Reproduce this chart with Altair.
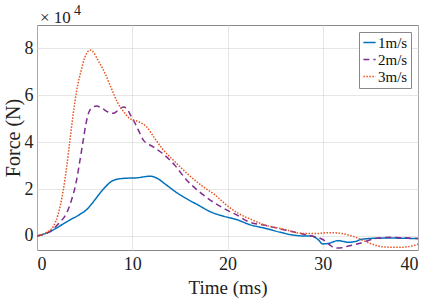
import altair as alt
import pandas as pd

t1 = [0, 0.5, 1.36, 2.5, 3.46, 4.5, 5.2, 6.0, 6.6, 7.2, 7.66, 8.2, 8.7, 9.76, 10.5, 11.2, 11.86, 12.56, 13.5, 14.66, 16, 17, 18.15, 19.5, 21.1, 22.2, 24, 25.5, 26.7, 28, 28.8, 29.5, 30.0, 30.6, 31.6, 32.7, 33.4, 34.1, 35.5, 37.2, 38.5, 40]
f1 = [0, 0.05, 0.18, 0.45, 0.68, 0.92, 1.12, 1.5, 1.82, 2.1, 2.28, 2.4, 2.44, 2.47, 2.48, 2.52, 2.55, 2.47, 2.2, 1.85, 1.52, 1.3, 1.04, 0.85, 0.68, 0.5, 0.32, 0.16, 0.05, 0.0, 0.0, -0.15, -0.34, -0.32, -0.2, -0.27, -0.24, -0.14, -0.1, -0.09, -0.1, -0.11]

t2 = [0, 1, 1.6, 2.2, 3.1, 3.6, 4.16, 4.5, 4.86, 5.1, 5.4, 5.8, 6.26, 6.8, 7.4, 8.0, 8.5, 9.06, 9.4, 9.76, 10.3, 10.8, 11.15, 12.2, 13.25, 14.5, 15.7, 17, 18.15, 19.5, 20.95, 22.2, 24, 25.7, 27.5, 28.8, 29.6, 30.2, 30.8, 31.3, 32, 32.7, 34.1, 35.5, 37.2, 38.5, 40]
f2 = [0, 0.12, 0.25, 0.5, 0.97, 1.5, 2.39, 3.2, 4.1, 4.7, 5.23, 5.48, 5.54, 5.45, 5.3, 5.23, 5.35, 5.5, 5.45, 5.2, 4.8, 4.38, 4.1, 3.8, 3.5, 3.0, 2.39, 1.9, 1.54, 1.2, 0.9, 0.61, 0.45, 0.28, 0.12, 0.0, -0.08, -0.2, -0.4, -0.52, -0.5, -0.43, -0.29, -0.11, -0.06, -0.08, -0.11]

t3 = [0, 1, 1.71, 2.2, 2.76, 3.1, 3.46, 3.8, 4.16, 4.6, 5.0, 5.3, 5.56, 5.9, 6.4, 7.14, 7.8, 8.5, 9.1, 9.76, 10.1, 10.8, 11.5, 12.3, 13.2, 14.3, 15.8, 17.45, 18.7, 19.8, 21.1, 22.5, 23.9, 25.8, 27.8, 29.2, 30.6, 31.7, 32.7, 33.4, 34.1, 35.2, 36.2, 37.2, 38.3, 39.2, 40]
f3 = [0, 0.15, 0.4, 0.9, 1.96, 2.9, 4.1, 5.2, 6.2, 7.0, 7.6, 7.85, 7.93, 7.85, 7.5, 6.94, 6.3, 5.66, 5.3, 5.0, 4.95, 4.85, 4.66, 4.2, 3.7, 3.24, 2.65, 2.1, 1.75, 1.35, 0.97, 0.7, 0.47, 0.3, 0.11, 0.1, 0.14, 0.12, 0.04, -0.05, -0.17, -0.35, -0.46, -0.48, -0.48, -0.44, -0.35]

series = ["1m/s", "2m/s", "3m/s"]
colors = ["#0072BD", "#7E2F8E", "#E8531F"]
dashes = [[1, 0], [6, 4], [1.5, 1.5]]
y_ticks = [0, 20000, 40000, 60000, 80000]
x_ticks = [0, 10, 20, 30, 40]

rows = []
for name, ts, fs in zip(series, [t1, t2, t3], [f1, f2, f3]):
    for i, (t, f) in enumerate(zip(ts, fs)):
        rows.append({"t": t, "F": f * 1e4, "s": name, "i": i})
df = pd.DataFrame(rows)

FONT = "Liberation Serif"

lines = alt.Chart(df).mark_line(strokeWidth=1.5, interpolate="monotone", clip=True).encode(
    x=alt.X("t:Q", scale=alt.Scale(domain=[0, 40], nice=False),
            axis=alt.Axis(values=x_ticks, title="Time (ms)", labelFontSize=18, titleFontSize=19,
                          labelPadding=5, titlePadding=5, ticks=False, domain=False,
                          gridDash=[1, 1], gridColor="#cccccc", labelColor="#222", titleColor="#222",
                          titleFontWeight="normal", labelFont=FONT, titleFont=FONT)),
    y=alt.Y("F:Q", scale=alt.Scale(domain=[-6000, 90000], nice=False, zero=False),
            axis=alt.Axis(values=y_ticks, title="Force (N)", labelExpr="datum.value/10000",
                          labelFontSize=18, titleFontSize=20, labelPadding=4,
                          titleX=-14, titleY=112.5, titleAngle=270, titleBaseline="bottom",
                          ticks=False, domain=False, gridDash=[1, 1], gridColor="#cccccc",
                          labelColor="#222", titleColor="#222", titleFontWeight="normal",
                          labelFont=FONT, titleFont=FONT)),
    color=alt.Color("s:N", scale=alt.Scale(domain=series, range=colors),
                    legend=alt.Legend(title=None, orient="none", legendX=322, legendY=7,
                                      symbolType="stroke", symbolSize=150, symbolStrokeWidth=1.5,
                                      labelFontSize=15, labelFont=FONT, labelColor="#111",
                                      strokeColor="#888", fillColor="white", padding=3,
                                      rowPadding=1, symbolOffset=0, labelOffset=1)),
    strokeDash=alt.StrokeDash("s:N", scale=alt.Scale(domain=series, range=dashes), legend=None),
    order="i:Q",
)

note = pd.DataFrame({"a": ["× 10"], "b": ["4"]})
mult = alt.Chart(note).mark_text(align="left", baseline="alphabetic", font=FONT, fontSize=17, color="#222").encode(
    text="a:N", x=alt.value(3), y=alt.value(-2))
sup = alt.Chart(note).mark_text(align="left", baseline="alphabetic", font=FONT, fontSize=14, color="#222").encode(
    text="b:N", x=alt.value(37), y=alt.value(-10))

chart = alt.layer(lines, mult, sup).properties(
    width=381, height=225,
    background="white",
    autosize=alt.AutoSizeParams(type="none"),
    padding={"left": 37, "top": 25, "right": 11, "bottom": 53},
).configure(font=FONT).configure_view(stroke="#888888", strokeWidth=1)

chart.save("out.html", embed_options={"renderer": "svg", "actions": False})
